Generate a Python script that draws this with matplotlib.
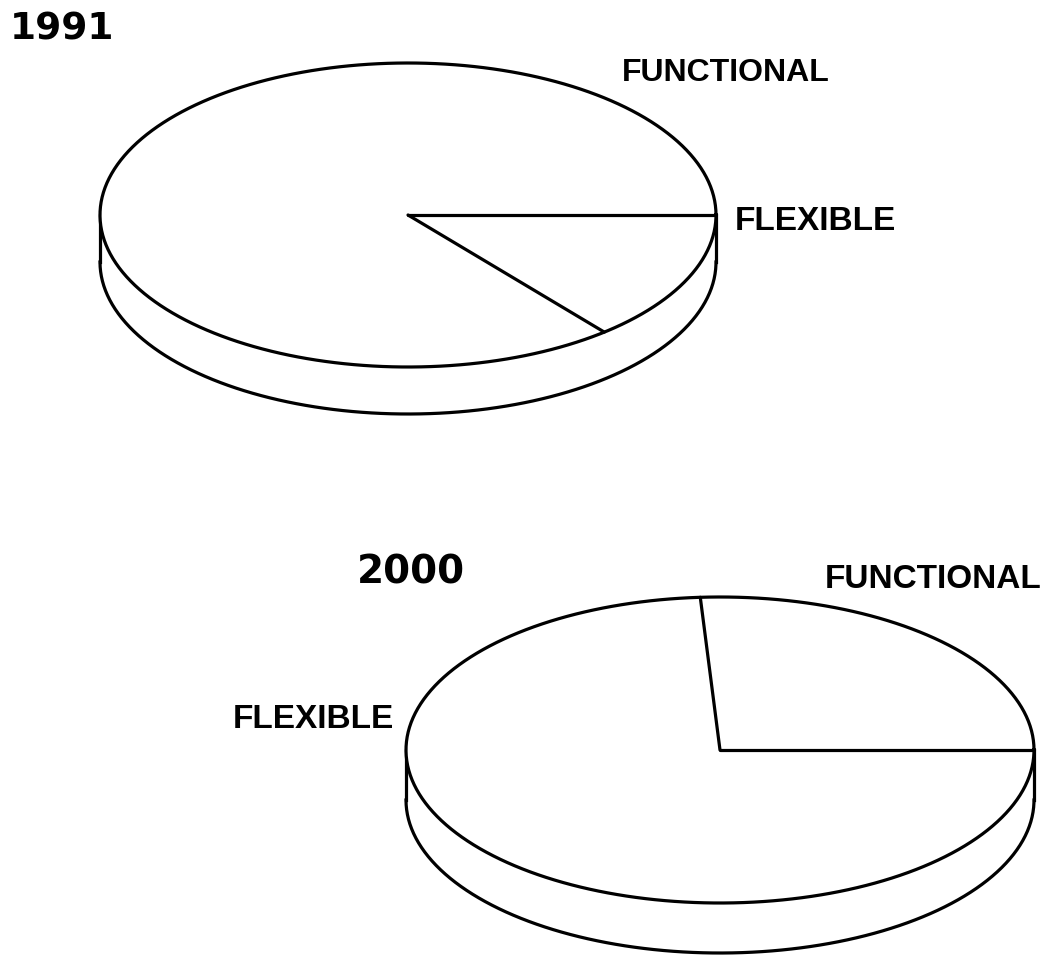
import numpy as np
import matplotlib.pyplot as plt

# shares of each type, counter-clockwise from 3 o'clock
years = ['1991', '2000']
categories = ['FUNCTIONAL', 'FLEXIBLE']
shares_1991 = [86, 14]
shares_2000 = [26, 74]

fig = plt.figure(figsize=(10.47, 9.79), dpi=100)
ax = fig.add_axes([0, 0, 1, 1])
ax.set_xlim(0, 1047)
ax.set_ylim(979, 0)
ax.axis('off')

LW = 2.3


def pie3d(cx, cy, a, b, depth, shares):
    t = np.linspace(0, 2 * np.pi, 400)
    # side wall (lower half of the bottom ellipse plus the two edges)
    tb = np.linspace(np.pi, 2 * np.pi, 200)
    xs = np.concatenate([cx + a * np.cos(tb), cx + a * np.cos(tb[::-1])])
    ys = np.concatenate([cy + depth - b * np.sin(tb), cy - b * np.sin(tb[::-1])])
    ax.fill(xs, ys, color='white', zorder=1)
    ax.plot(cx + a * np.cos(tb), cy + depth - b * np.sin(tb), color='black', lw=LW, zorder=2)
    ax.plot([cx - a, cx - a], [cy, cy + depth], color='black', lw=LW, zorder=2)
    ax.plot([cx + a, cx + a], [cy, cy + depth], color='black', lw=LW, zorder=2)
    # top face
    ax.fill(cx + a * np.cos(t), cy - b * np.sin(t), color='white', zorder=3)
    ax.plot(cx + a * np.cos(t), cy - b * np.sin(t), color='black', lw=LW, zorder=4)
    # wedge boundaries
    bounds = np.concatenate([[0], np.cumsum(shares)]) / sum(shares) * 2 * np.pi
    for ang in bounds[:-1]:
        ax.plot([cx, cx + a * np.cos(ang)], [cy, cy - b * np.sin(ang)],
                color='black', lw=LW, zorder=4, solid_capstyle='round')


pie3d(408, 216, 308, 152, 47, shares_1991)
pie3d(720, 751, 314, 153, 50, shares_2000)

year_font = dict(family='DejaVu Sans', fontweight='bold', fontsize=27, va='center', ha='left')
lab_font = dict(family='Liberation Sans', fontweight='bold', fontsize=23, va='center', ha='left')

ax.text(10, 29, years[0], **year_font)
ax.text(622, 73, categories[0], **lab_font)
ax.text(735, 221, categories[1], fontsize=24, **{k: v for k, v in lab_font.items() if k != 'fontsize'})

ax.text(357, 573, years[1], fontsize=28, **{k: v for k, v in year_font.items() if k != 'fontsize'})
ax.text(825, 580, categories[0], fontsize=24, **{k: v for k, v in lab_font.items() if k != 'fontsize'})
ax.text(233, 720, categories[1], fontsize=24, **{k: v for k, v in lab_font.items() if k != 'fontsize'})

fig.savefig('out.png', dpi=100, facecolor='white')
